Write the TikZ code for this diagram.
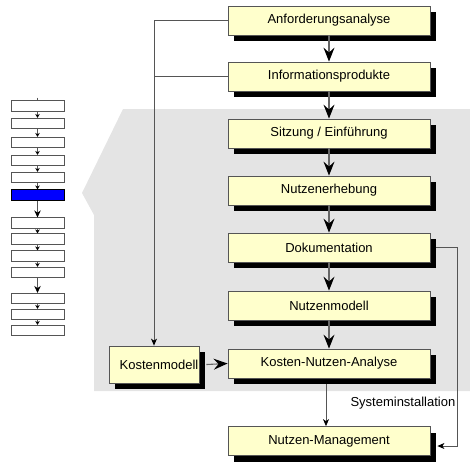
\documentclass[tikz,border=0pt]{standalone}
\usepackage{fontspec}
\setmainfont{Liberation Sans}
\usetikzlibrary{arrows.meta,shadows}
\definecolor{boxfill}{HTML}{FFFFCC}
\definecolor{panel}{HTML}{E4E4E4}
\definecolor{edge}{HTML}{555555}
\definecolor{wire}{HTML}{666666}
\definecolor{active}{HTML}{0000FF}

\begin{document}
\begin{tikzpicture}[x=1pt,y=-1pt,
  font=\fontsize{13}{15}\selectfont,
  stage/.style={draw=edge, line width=0.8pt, fill=boxfill,
    minimum width=202pt, minimum height=29pt, inner sep=0pt,
    drop shadow={shadow xshift=6pt, shadow yshift=-6pt, fill=black, opacity=1}},
  flow/.style={draw=wire, line width=1.1pt,
    -{Stealth[black, length=14pt, width=11pt, inset=5pt]}},
  feed/.style={draw=edge, line width=0.8pt},
  feedarrow/.style={feed, -{Stealth[black, length=7pt, width=6pt, inset=2pt]}},
  mini/.style={draw=edge, line width=0.7pt, fill=white,
    minimum width=53pt, minimum height=10.5pt, inner sep=0pt},
  minilink/.style={draw=edge, line width=0.7pt, -{Stealth[black, length=4pt, width=4.5pt]}},
  minijump/.style={draw=edge, line width=0.8pt, -{Stealth[black, length=7pt, width=6.5pt]}}
]
\useasboundingbox (0,0) rectangle (470,461);

% grey panel behind the working phases
\fill[panel] (123,109) -- (470,109) -- (470,391) -- (94,391) -- (94,215) -- (82,193) -- cycle;

% process stages
\node[stage] (s1) at (329,20.5) {Anforderungsanalyse};
\node[stage] (s2) at (329,76.5) {Informationsprodukte};
\node[stage] (s3) at (329,133.5) {Sitzung / Einführung};
\node[stage] (s4) at (329,190.5) {Nutzenerhebung};
\node[stage] (s5) at (329,247.5) {Dokumentation};
\node[stage] (s6) at (329,305.5) {Nutzenmodell};
\node[stage] (s7) at (329,363.5) {Kosten-Nutzen-Analyse};
\node[stage] (s8) at (329,441) {Nutzen-Management};

\node[stage, minimum width=90pt, minimum height=37pt,
  label={[xshift=5pt]center:Kostenmodell}] (kost) at (154,364.5) {};

% main flow
\draw[flow] (s1.south) -- (s2.north);
\draw[flow] (s2.south) -- (s3.north);
\draw[flow] (s3.south) -- (s4.north);
\draw[flow] (s4.south) -- (s5.north);
\draw[flow] (s5.south) -- (s6.north);
\draw[flow] (s6.south) -- (s7.north);
\draw[flow] ([xshift=7pt]kost.east) -- (s7.west);
\draw[feedarrow] ([xshift=-3pt,yshift=-6pt]s7.south) -- ([xshift=-3pt]s8.north);

% inputs to the cost model
\draw[feedarrow] (s1.west) -| (kost.north);
\draw[feed] (s2.west) -- (s2.west -| kost.north);

% system installation bypass
\draw[feedarrow] ([xshift=6pt]s5.east) -- ++(21,0) |- ([xshift=7pt,yshift=-5pt]s8.east);
\node[anchor=east, inner sep=0pt] (sys) at (455.5,403) {Systeminstallation};

% overview strip
\coordinate (m0) at (37.5,97.5);
\node[mini] (m1) at (37.5,106) {};
\node[mini] (m2) at (37.5,123.5) {};
\node[mini] (m3) at (37.5,142.5) {};
\node[mini] (m4) at (37.5,160.5) {};
\node[mini] (m5) at (37.5,177.5) {};
\node[mini, fill=active, draw=black] (m6) at (37.5,195) {};
\node[mini] (m7) at (37.5,223) {};
\node[mini] (m8) at (37.5,239) {};
\node[mini] (m9) at (37.5,256) {};
\node[mini] (m10) at (37.5,272.5) {};
\node[mini] (m11) at (37.5,298.5) {};
\node[mini] (m12) at (37.5,314.5) {};
\node[mini] (m13) at (37.5,330.5) {};

\draw[draw=edge, line width=0.7pt] (m0) -- (m1.north);
\foreach \a/\b in {1/2,2/3,3/4,4/5,5/6,7/8,8/9,9/10,11/12,12/13}
  \draw[minilink] (m\a.south) -- (m\b.north);
\draw[minijump] (m6.south) -- (m7.north);
\draw[minijump] (m10.south) -- (m11.north);
\end{tikzpicture}
\end{document}
